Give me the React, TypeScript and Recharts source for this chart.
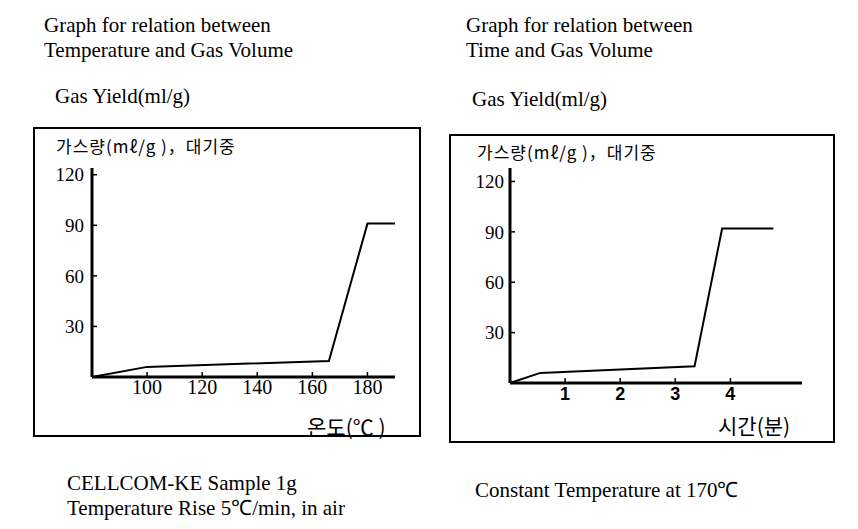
import React from "react";
import { Line, LineChart, XAxis, YAxis } from "recharts";

// temperature run (heating 5°C/min)
const tempC = [80, 100, 166, 180, 190];
const tempYield = [0, 6, 9.5, 91, 91];
const tempTicks = [100, 120, 140, 160, 180];

// constant temperature run (170°C)
const timeMin = [0, 0.55, 3.35, 3.85, 4.78];
const timeYield = [0, 6, 10, 92, 92];
const timeTicks = [1, 2, 3, 4];

const yieldTicks = [30, 60, 90, 120];

const tempData = tempC.map((t, i) => ({ x: t, y: tempYield[i] }));
const timeData = timeMin.map((t, i) => ({ x: t, y: timeYield[i] }));

const serif = '"Liberation Serif", "Times New Roman", serif';
const korean = '"Noto Sans CJK KR", sans-serif';

function Txt({
  left,
  top,
  size,
  font = serif,
  children,
  spacing = 0,
}: {
  left: number;
  top: number;
  size: number;
  font?: string;
  spacing?: number;
  children: React.ReactNode;
}) {
  return (
    <div
      style={{
        position: "absolute",
        left,
        top,
        fontSize: size,
        lineHeight: 1,
        fontFamily: font,
        letterSpacing: spacing,
        whiteSpace: "pre",
        color: "#000",
      }}
    >
      {children}
    </div>
  );
}

const axisLine = { stroke: "#000", strokeWidth: 3 };
const tickLine = { stroke: "#000", strokeWidth: 1.5 };

export default function App() {
  return (
    <div
      style={{
        position: "absolute",
        left: 0,
        top: 0,
        width: 858,
        height: 529,
        background: "#fff",
        overflow: "hidden",
      }}
    >
      {/* left panel */}
      <Txt left={44} top={15} size={21}>Graph for relation between</Txt>
      <Txt left={44} top={40} size={21}>Temperature and Gas Volume</Txt>
      <Txt left={55} top={86} size={21}>Gas Yield(ml/g)</Txt>

      <div
        style={{
          position: "absolute",
          left: 33,
          top: 127,
          width: 388,
          height: 310,
          boxSizing: "border-box",
          border: "2px solid #000",
        }}
      />
      <div style={{ position: "absolute", left: 33, top: 127 }}>
        <LineChart
          width={388}
          height={310}
          data={tempData}
          margin={{ top: 41, right: 26, left: 0, bottom: 0 }}
        >
          <XAxis
            type="number"
            dataKey="x"
            domain={[80, 190]}
            ticks={tempTicks}
            height={60}
            axisLine={axisLine}
            tickLine={tickLine}
            tickSize={-5}
            tickMargin={8}
            tick={{ fill: "#000", fontSize: 20, fontFamily: serif }}
          />
          <YAxis
            type="number"
            dataKey="y"
            domain={[0, 124]}
            ticks={yieldTicks}
            width={59}
            axisLine={axisLine}
            tickLine={tickLine}
            tickSize={-5}
            tickMargin={13}
            tick={{ fill: "#000", fontSize: 19, fontFamily: serif }}
          />
          <Line
            type="linear"
            dataKey="y"
            stroke="#000"
            strokeWidth={2}
            dot={false}
            isAnimationActive={false}
          />
        </LineChart>
      </div>
      <Txt left={56} top={137} size={17} font={korean} spacing={1}>
        가스량(mℓ/g )，대기중
      </Txt>
      <Txt left={307} top={416} size={21} font={korean}>
        온도(℃ )
      </Txt>

      <Txt left={67} top={473} size={21}>CELLCOM-KE Sample 1g</Txt>
      <Txt left={67} top={498} size={21}>Temperature Rise 5℃/min, in air</Txt>

      {/* right panel */}
      <Txt left={466} top={15} size={21}>Graph for relation between</Txt>
      <Txt left={466} top={40} size={21}>Time and Gas Volume</Txt>
      <Txt left={472} top={89} size={21}>Gas Yield(ml/g)</Txt>

      <div
        style={{
          position: "absolute",
          left: 449,
          top: 134,
          width: 386,
          height: 309,
          boxSizing: "border-box",
          border: "2px solid #000",
        }}
      />
      <div style={{ position: "absolute", left: 449, top: 134 }}>
        <LineChart
          width={386}
          height={309}
          data={timeData}
          margin={{ top: 34, right: 33, left: 0, bottom: 0 }}
        >
          <XAxis
            type="number"
            dataKey="x"
            domain={[0, 5.3]}
            ticks={timeTicks}
            height={60}
            axisLine={axisLine}
            tickLine={tickLine}
            tickSize={-5}
            tickMargin={9}
            tick={{
              fill: "#000",
              fontSize: 18,
              fontWeight: 700,
              fontFamily: '"Liberation Sans", Arial, sans-serif',
            }}
          />
          <YAxis
            type="number"
            dataKey="y"
            domain={[0, 128]}
            ticks={yieldTicks}
            width={61}
            axisLine={axisLine}
            tickLine={tickLine}
            tickSize={-5}
            tickMargin={11}
            tick={{ fill: "#000", fontSize: 19, fontFamily: serif }}
          />
          <Line
            type="linear"
            dataKey="y"
            stroke="#000"
            strokeWidth={2}
            dot={false}
            isAnimationActive={false}
          />
        </LineChart>
      </div>
      <Txt left={477} top={143} size={17} font={korean} spacing={1}>
        가스량(mℓ/g )，대기중
      </Txt>
      <Txt left={718} top={415} size={21} font={korean}>
        시간(분)
      </Txt>

      <Txt left={475} top={480} size={21}>Constant Temperature at 170℃</Txt>
    </div>
  );
}
